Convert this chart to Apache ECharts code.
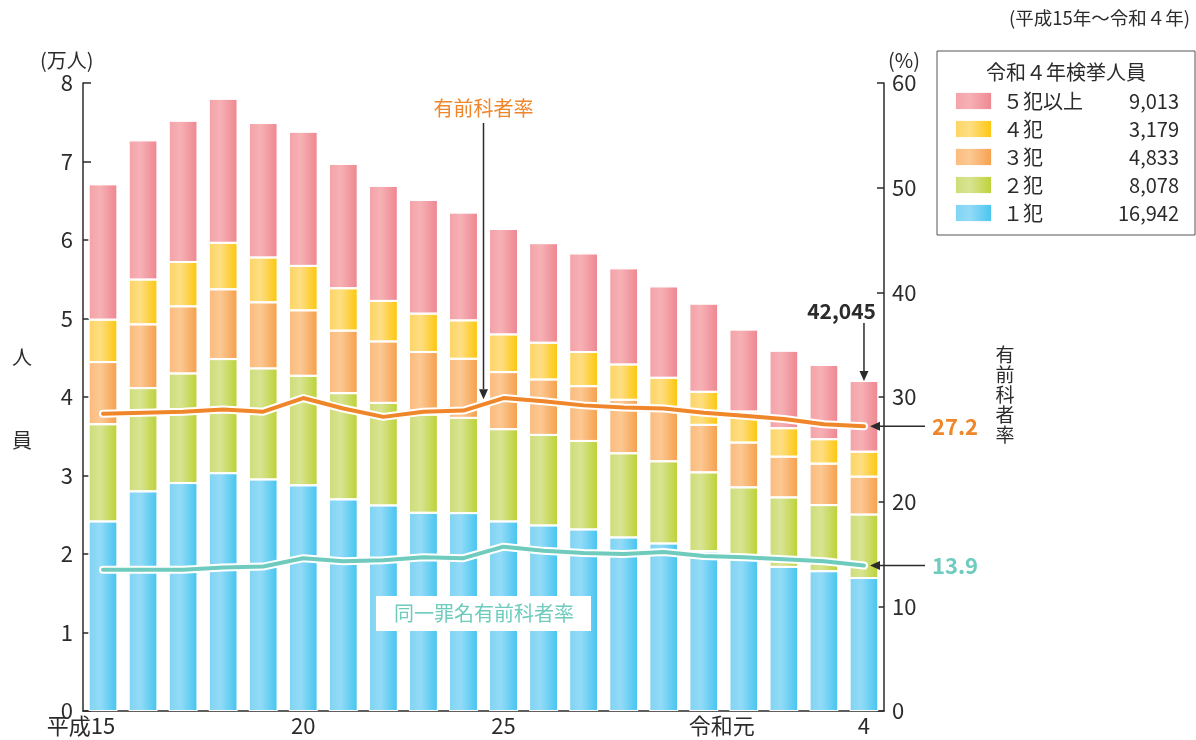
<!DOCTYPE html>
<html>
<head>
<meta charset="utf-8">
<script src="https://cdn.jsdelivr.net/npm/echarts@6/dist/echarts.min.js"></script>
<style>
  html, body { margin: 0; padding: 0; background: #fff; }
  #chart { width: 1196px; height: 740px; }
</style>
</head>
<body>
<div id="chart"></div>
<script>
// 年次（平成15年～令和4年）
const years = ['平成15', '16', '17', '18', '19', '20', '21', '22', '23', '24', '25',
  '26', '27', '28', '29', '30', '令和元', '2', '3', '4'];

// 検挙人員（人）前科数別
const offense1 = [24150, 27980, 29040, 30300, 29500, 28750, 26960, 26190, 25250, 25210,
  24150, 23640, 23130, 22110, 21340, 20360, 19600, 18360, 17810, 16942];
const offense2 = [12380, 13150, 13960, 14530, 14140, 13950, 13530, 13060, 12510, 12130,
  11750, 11530, 11270, 10720, 10470, 10040, 8890, 8850, 8420, 8078];
const offense3 = [7920, 8120, 8550, 8890, 8420, 8340, 7960, 7830, 7970, 7530,
  7270, 7060, 6980, 6810, 6890, 6050, 5700, 5190, 5280, 4833];
const offense4 = [5400, 5710, 5650, 5920, 5710, 5660, 5400, 5160, 4890, 4890,
  4800, 4680, 4350, 4500, 3750, 4210, 3960, 3620, 3110, 3179];
const offense5plus = [17250, 17740, 18000, 18360, 17130, 17100, 15850, 14660, 14480, 13740,
  13430, 12690, 12570, 12260, 11650, 11240, 10450, 9880, 9480, 9013];

// 有前科者率・同一罪名有前科者率（％）
const priorRate = [28.4, 28.5, 28.6, 28.8, 28.6, 29.9, 28.9, 28.1, 28.6, 28.7,
  29.9, 29.6, 29.2, 29.0, 28.9, 28.5, 28.2, 27.9, 27.4, 27.2];
const sameCrimeRate = [13.5, 13.5, 13.5, 13.7, 13.8, 14.6, 14.3, 14.4, 14.7, 14.6,
  15.7, 15.3, 15.1, 15.0, 15.2, 14.8, 14.7, 14.5, 14.3, 13.9];

// 軸の目盛
const leftTicks = [0, 10000, 20000, 30000, 40000, 50000, 60000, 70000, 80000];
const rightTicks = [0, 10, 20, 30, 40, 50, 60];
const labelledYears = ['平成15', '20', '25', '令和元', '4'];

const FONT = '"Noto Sans CJK JP", "Noto Sans", sans-serif';
const INK = '#2b2b2b';
const ORANGE = '#f0862a';
const TEAL = '#6fcbbd';

function hGrad(c) {
  return new echarts.graphic.LinearGradient(0, 0, 1, 0, [
    { offset: 0, color: c[0] }, { offset: 0.4, color: c[1] }, { offset: 1, color: c[2] }
  ]);
}

const barDefs = [
  { name: '１犯', data: offense1, colors: ['#7fd3f3', '#93dbf7', '#44c4ef'] },
  { name: '２犯', data: offense2, colors: ['#cedc76', '#d9e493', '#bbd132'] },
  { name: '３犯', data: offense3, colors: ['#fbba7b', '#fcc893', '#f59f49'] },
  { name: '４犯', data: offense4, colors: ['#fdd462', '#fede84', '#fdc608'] },
  { name: '５犯以上', data: offense5plus, colors: ['#f4a1a7', '#f6b1b5', '#ee858f'] }
];

const latest = {};
barDefs.forEach(d => { latest[d.name] = d.data[d.data.length - 1]; });
const lastIdx = years.length - 1;
const lastTotal = barDefs.reduce((s, d) => s + d.data[lastIdx], 0);

const chart = echarts.init(document.getElementById('chart'), null, { renderer: 'canvas' });

const barSeries = barDefs.map(d => ({
  type: 'bar',
  name: d.name,
  stack: 'total',
  data: d.data,
  barWidth: 29,
  itemStyle: { color: hGrad(d.colors), borderColor: 'rgba(255,255,255,0.9)', borderWidth: 1 },
  emphasis: { disabled: true },
  z: 2
}));

function rateLines(data, color) {
  return [
    {
      type: 'line', data, yAxisIndex: 1, symbol: 'none', silent: true, z: 3,
      lineStyle: { color: '#ffffff', width: 8, cap: 'round', join: 'round' },
      emphasis: { disabled: true }
    },
    {
      type: 'line', data, yAxisIndex: 1, symbol: 'none', silent: true, z: 4,
      lineStyle: { color, width: 4, cap: 'round', join: 'round' },
      emphasis: { disabled: true }
    }
  ];
}

const axisText = { fontFamily: FONT, fontSize: 22, color: INK };

chart.setOption({
  animation: false,
  backgroundColor: '#fff',
  textStyle: { fontFamily: FONT },
  grid: { left: 83, right: 312, top: 83, bottom: 29 },
  xAxis: {
    type: 'category',
    data: years,
    axisTick: { show: false },
    axisLine: { lineStyle: { color: INK, width: 1.5 } },
    axisLabel: {
      interval: (i, v) => labelledYears.includes(v),
      margin: 4,
      ...axisText,
      formatter: v => {
        if (v.startsWith('平成')) return v + '{h|平成}';
        if (v.startsWith('令和')) return v + '{h|令和}';
        return v;
      },
      rich: { h: { ...axisText, color: 'rgba(0,0,0,0)' } }
    }
  },
  yAxis: [
    {
      type: 'value', min: leftTicks[0], max: leftTicks[leftTicks.length - 1],
      interval: leftTicks[1] - leftTicks[0],
      axisLine: { show: true, lineStyle: { color: INK, width: 1.5 } },
      axisTick: { show: true, inside: true, length: 8, lineStyle: { color: INK, width: 1.5 } },
      splitLine: { show: false },
      axisLabel: { ...axisText, margin: 10, formatter: v => String(v / 10000) }
    },
    {
      type: 'value', position: 'right', min: rightTicks[0], max: rightTicks[rightTicks.length - 1],
      interval: rightTicks[1] - rightTicks[0],
      axisLine: { show: true, lineStyle: { color: INK, width: 1.5 } },
      axisTick: { show: true, inside: true, length: 7, lineStyle: { color: INK, width: 1.5 } },
      splitLine: { show: false },
      axisLabel: { ...axisText, margin: 8 }
    }
  ],
  legend: {
    data: ['５犯以上', '４犯', '３犯', '２犯', '１犯'],
    orient: 'vertical',
    left: 937, top: 51,
    padding: [40, 16, 12, 17],
    itemWidth: 37, itemHeight: 18, itemGap: 8,
    icon: 'rect',
    selectedMode: false,
    borderColor: '#555', borderWidth: 1, borderRadius: 0,
    formatter: name => `{n|${name}}{v|${latest[name].toLocaleString('en-US')}}`,
    textStyle: {
      fontFamily: FONT, fontSize: 20, color: INK,
      rich: {
        n: { fontFamily: FONT, fontSize: 20, color: INK, width: 100, lineHeight: 18, padding: [0, 0, 0, 6] },
        v: { fontFamily: FONT, fontSize: 20, color: INK, width: 76, align: 'right', lineHeight: 18 }
      }
    }
  },
  series: [
    ...barSeries,
    ...rateLines(priorRate, ORANGE),
    ...rateLines(sameCrimeRate, TEAL)
  ]
});

// 注記（矢印・数値ラベル）
function arrow(x1, y1, x2, y2) {
  const ang = Math.atan2(y2 - y1, x2 - x1);
  const L = 10, W = 4.5;
  const bx = x2 - L * Math.cos(ang), by = y2 - L * Math.sin(ang);
  const px = -Math.sin(ang) * W, py = Math.cos(ang) * W;
  return [
    { type: 'line', shape: { x1, y1, x2: bx, y2: by }, style: { stroke: INK, lineWidth: 1.5 }, z: 100 },
    { type: 'polygon', shape: { points: [[x2, y2], [bx + px, by + py], [bx - px, by - py]] }, style: { fill: INK }, z: 100 }
  ];
}
function text(x, y, str, opt) {
  return {
    type: 'text', x, y, z: 100,
    style: Object.assign({ text: str, fill: INK, font: `20px ${FONT}`, align: 'left', verticalAlign: 'middle' }, opt || {})
  };
}

const toPx = (i, v, yi) => chart.convertToPixel({ xAxisIndex: 0, yAxisIndex: yi }, [i, v]);

const topLast = toPx(lastIdx, lastTotal, 0);
const priorEnd = toPx(lastIdx, priorRate[lastIdx], 1);
const sameEnd = toPx(lastIdx, sameCrimeRate[lastIdx], 1);
const pA = toPx(9, priorRate[9], 1), pB = toPx(10, priorRate[10], 1);
const pointerX = (pA[0] + pB[0]) / 2, pointerY = (pA[1] + pB[1]) / 2 - 5;

const graphics = [
  text(1190, 18, '(平成15年～令和４年)', { align: 'right', font: `18.5px ${FONT}` }),
  text(40, 60, '(万人)', { font: `20px ${FONT}` }),
  text(22, 357, '人', { align: 'center' }),
  text(22, 440, '員', { align: 'center' }),
  text(888, 60, '(%)', { font: `20px ${FONT}` }),
  text(1005, 395, '有\n前\n科\n者\n率', { align: 'center', font: `19px ${FONT}`, lineHeight: 20 }),
  text(1066, 72, '令和４年検挙人員', { align: 'center' }),
  // 有前科者率の見出し
  text(pointerX, 108, '有前科者率', { align: 'center', fill: ORANGE }),
  ...arrow(pointerX, 123, pointerX, pointerY),
  // 令和4年の総数
  text(topLast[0] + 12, topLast[1] - 70, lastTotal.toLocaleString('en-US'),
    { align: 'right', font: `bold 21px ${FONT}` }),
  ...arrow(topLast[0], topLast[1] - 58, topLast[0], topLast[1]),
  // 令和4年の率
  ...arrow(priorEnd[0] + 61, priorEnd[1], priorEnd[0] + 6, priorEnd[1]),
  text(priorEnd[0] + 68, priorEnd[1], priorRate[lastIdx].toFixed(1), { fill: ORANGE, font: `bold 22px ${FONT}` }),
  ...arrow(sameEnd[0] + 61, sameEnd[1], sameEnd[0] + 6, sameEnd[1]),
  text(sameEnd[0] + 68, sameEnd[1], sameCrimeRate[lastIdx].toFixed(1), { fill: TEAL, font: `bold 22px ${FONT}` }),
  // 同一罪名有前科者率の見出し
  { type: 'rect', shape: { x: 376, y: 596, width: 215, height: 35 }, style: { fill: '#fff' }, z: 99 },
  text(484, 613, '同一罪名有前科者率', { align: 'center', fill: TEAL })
];

chart.setOption({ graphic: graphics });
</script>
</body>
</html>
